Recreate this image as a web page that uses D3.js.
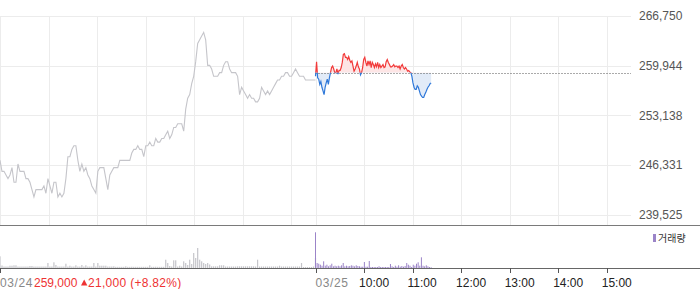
<!DOCTYPE html>
<html>
<head>
<meta charset="utf-8">
<script src="https://cdnjs.cloudflare.com/ajax/libs/d3/7.8.5/d3.min.js"></script>
<style>
  body { margin: 0; background: #fff; }
  svg { display: block; font-family: "Liberation Sans", Arial, sans-serif; }
</style>
</head>
<body>
<div id="chart"></div>
<script>
// 03/24 full session 09:00-15:30, price in thousand won
var prevPrices = [
  247, 245.5, 245.5, 245, 244.5, 245, 246, 244, 244, 246.5,
  245.5, 245.5, 245.5, 244.5, 244.5, 244, 243, 242, 243, 243,
  243, 243, 243.5, 242.5, 244.5, 243.5, 242.5, 244, 244, 242,
  242.5, 242, 242.5, 244.5, 247.5, 247.5, 248.5, 249, 249, 247,
  245.5, 246.5, 245.5, 246, 245, 244.5, 243.5, 243, 242.5, 245.5,
  246, 246, 246, 244.5, 243, 245, 245.5, 246, 246, 246,
  247, 247, 247, 247, 247, 247, 248, 248.5, 248.5, 249,
  248.5, 248.5, 247.5, 249, 249, 249.5, 249, 249, 250, 249.5,
  249.5, 250, 250, 250.5, 251, 250, 250.5, 251.5, 251.5, 252,
  252, 252, 251, 254, 255.5, 256, 257.5, 258.5, 260.5, 263,
  263.5, 264, 264.5, 263.5, 260, 260, 259.5, 258.5, 258.5, 258.5,
  259, 259, 260, 260.5, 260.5, 259.5, 259, 259, 259, 258.5,
  256, 257, 256.5, 256, 255.5, 256, 255.5, 255.5, 255, 255,
  255.5, 257, 256.5, 256, 256.5, 256, 256.5, 257, 257.5, 258,
  258, 258.5, 258.5, 259, 259, 258.5, 258.5, 259, 259.5, 259,
  258.5, 258.5, 258.5, 258, 258, 258, 258, 258, 258
];

// 03/25 09:00-11:23
var todayPrices = [
  258.5, 260.5, 258.3, 258.1, 257.4, 257.8, 257.0, 256.5, 256.0, 257.0,
  257.6, 258.1, 257.4, 258.3, 259.0, 259.7, 259.9, 259.5, 259.0, 259.0,
  259.5, 258.8, 259.3, 259.3, 259.7, 260.4, 261.5, 261.6, 261.1, 261.1,
  260.8, 261.2, 260.7, 260.4, 260.6, 259.9, 259.2, 259.5, 259.9, 260.4,
  259.8, 259.5, 258.7, 259.0, 259.7, 260.8, 261.1, 260.4, 259.9, 260.6,
  260.1, 260.6, 259.7, 260.4, 260.1, 259.7, 260.2, 259.8, 260.4, 259.7,
  260.1, 259.7, 259.9, 260.1, 259.7, 259.8, 260.5, 260.8, 260.4, 260.1,
  259.8, 259.8, 259.9, 260.1, 259.8, 259.9, 259.9, 259.7, 259.9, 259.5,
  259.9, 260.1, 259.7, 259.5, 259.7, 259.5, 259.2, 259.3, 259.1, 259.0,
  258.5, 257.6, 257.0, 256.7, 256.7, 257.2, 257.0, 256.5, 256.0, 255.8,
  255.6, 255.6, 256.0, 256.3, 256.7, 257.0, 257.2, 257.5, 257.6
];

// volume, thousand shares
var prevVolume = [
  11.7, 2.5, 1.5, 1.5, 1.5, 2.3, 2.3, 2.7, 2.7, 1.5,
  1.5, 1.5, 1.5, 1.5, 1.5, 2, 2, 1.5, 1.5, 1.5,
  1.5, 1.5, 1.5, 1.5, 5, 1.5, 1.5, 5.7, 3, 1.5,
  1.5, 1.5, 1.5, 4.3, 1.5, 2.3, 1.5, 1.5, 2.7, 1.5,
  1.5, 3, 1.5, 2.7, 1.5, 1.5, 1.5, 5, 1.5, 5,
  2.3, 2.3, 2.3, 2.3, 1.5, 1.5, 1.5, 1.7, 1.2, 1.2,
  1.2, 1.2, 1.2, 1.7, 1.2, 1.2, 1.3, 1.2, 1.2, 1.2,
  1.2, 1.2, 1.2, 1.2, 1.2, 2.7, 1.2, 1.2, 1.3, 1.2,
  1.2, 1.2, 1.2, 8.3, 5, 2, 1.5, 7.7, 7.7, 1.5,
  2.3, 1.5, 6.7, 5, 3, 8.3, 4, 15, 10, 20,
  8.3, 6.7, 5, 4, 5, 3.5, 1.7, 1.7, 1.7, 1.7,
  2.7, 2.7, 2.7, 1.5, 1.5, 1.5, 1.5, 1.5, 1.5, 1.7,
  1.7, 1.7, 1.7, 1.7, 1.7, 1.7, 1.7, 1.7, 1.5, 8.3,
  1.5, 1.5, 1.5, 1.5, 1.5, 1.5, 1.5, 1.5, 1.5, 1.5,
  2.3, 1.5, 1.5, 1.5, 1.5, 1.5, 1.5, 1.5, 1.5, 1.5,
  1.5, 5, 1, 1, 1, 1, 1, 1.5, 10
];
var todayVolume = [
  35.7, 5, 4.3, 3.3, 2.3, 6.7, 2.3, 3.3, 1.7, 2.7,
  4.3, 1.7, 2.3, 1.7, 2.3, 1.7, 2.7, 5, 1.7, 2.3,
  1.7, 2, 2.7, 2.3, 1.7, 2.7, 2, 1.7, 1.3, 1.3,
  6, 1.3, 1.3, 7, 1, 1, 1, 1, 1, 1.7,
  1, 1, 1, 1, 1, 1, 4, 1.7, 1, 2.3,
  1.3, 2.7, 1.3, 2, 1.3, 2, 5, 3.3, 2.3, 1,
  3.3, 2.3, 4.3, 5.7, 2.3, 10.7, 2.3, 1.7, 2.7, 1.7,
  1, 0.7
];

var basePrice = 259000;
var priceTicks = [239525, 246331, 253138, 259944, 266750];
var hourLabels = ["10:00", "11:00", "12:00", "13:00", "14:00", "15:00"];
var dayLabels = ["03/24", "03/25"];
var closeText = "259,000";
var changeText = "21,000 (+8.82%)";
var legendText = "거래량";

// magic numbers
var width = 700, height = 289;
var plot = {left: 0, right: 631, top: 16, bottom: 225};
var volBox = {top: 226, bottom: 268};
var session = 390;   // minutes 09:00 - 15:30
var todayLast = 143; // 09:00 -> 11:23
var colors = {
  grid: "#ececec", prev: "#c5c5ca", up: "#f23a3a", down: "#2f78d9",
  upFill: "#fde5e5", downFill: "#e2ebf8", vol: "#9b84c8", text: "#555", red: "#ee3333"
};

var svg = d3.select("#chart").append("svg")
  .attr("width", width)
  .attr("height", height);

var x = d3.scaleLinear()
  .domain([0, session * 2])
  .range([plot.left, plot.right]);

var y = d3.scaleLinear()
  .domain([priceTicks[0], priceTicks[priceTicks.length - 1]])
  .range([215, plot.top]);

var yv = d3.scaleLinear()
  .domain([0, 42])
  .range([volBox.bottom, volBox.top]);

var prevData = prevPrices.map(function(p, i){
  return {t: i * session / (prevPrices.length - 1), p: p * 1000};
});
var todayData = todayPrices.map(function(p, i){
  return {t: session + i * todayLast / (todayPrices.length - 1), p: p * 1000};
});
var prevVol = prevVolume.map(function(v, i){
  return {t: i * session / (prevVolume.length - 1), v: v};
});
var todayVol = todayVolume.map(function(v, i){
  return {t: session + i * todayLast / (todayVolume.length - 1), v: v};
});

function crisp(v){ return Math.round(v) + 0.5; }

// hour grid, both days
var hours = [];
[0, 1].forEach(function(day){
  for (var h = 0; h <= 6; h++) hours.push(day * session + h * 60);
});

var grid = svg.append("g").attr("class", "grid");

grid.selectAll(".vgrid")
    .data(hours)
  .enter().append("line")
    .attr("x1", function(d){ return crisp(x(d)); })
    .attr("x2", function(d){ return crisp(x(d)); })
    .attr("y1", plot.top)
    .attr("y2", plot.bottom)
    .style("stroke", colors.grid);

grid.selectAll(".hgrid")
    .data(priceTicks)
  .enter().append("line")
    .attr("x1", plot.left)
    .attr("x2", plot.right)
    .attr("y1", function(d){ return crisp(y(d)); })
    .attr("y2", function(d){ return crisp(y(d)); })
    .style("stroke", colors.grid);

// right axis labels
svg.append("g").selectAll("text")
    .data(priceTicks)
  .enter().append("text")
    .attr("x", 639)
    .attr("y", function(d){ return y(d); })
    .attr("dy", "0.35em")
    .style("font-size", "12px")
    .style("fill", colors.text)
    .text(d3.format(","));

// previous day line
svg.append("path")
  .datum(prevData)
  .attr("d", d3.line()
    .x(function(d){ return x(d.t); })
    .y(function(d){ return y(d.p); }))
  .style("fill", "none")
  .style("stroke", colors.prev)
  .style("stroke-width", 1.1);

// clips above / below base price
var yb = y(basePrice);
var defs = svg.append("defs");
defs.append("clipPath").attr("id", "clip-up")
  .append("rect")
    .attr("x", plot.left).attr("y", 0)
    .attr("width", plot.right).attr("height", yb);
defs.append("clipPath").attr("id", "clip-down")
  .append("rect")
    .attr("x", plot.left).attr("y", yb)
    .attr("width", plot.right).attr("height", plot.bottom - yb);

var area = d3.area()
  .x(function(d){ return x(d.t); })
  .y0(yb)
  .y1(function(d){ return y(d.p); });

var line = d3.line()
  .x(function(d){ return x(d.t); })
  .y(function(d){ return y(d.p); });

[["up", colors.upFill, colors.up], ["down", colors.downFill, colors.down]].forEach(function(s){
  svg.append("path")
    .datum(todayData)
    .attr("clip-path", "url(#clip-" + s[0] + ")")
    .attr("d", area)
    .style("fill", s[1]);
});

// base price dotted line
svg.append("line")
  .attr("x1", x(session))
  .attr("x2", plot.right)
  .attr("y1", crisp(yb))
  .attr("y2", crisp(yb))
  .style("stroke", "#555")
  .style("stroke-dasharray", "1,2");

[["up", colors.up], ["down", colors.down]].forEach(function(s){
  svg.append("path")
    .datum(todayData)
    .attr("clip-path", "url(#clip-" + s[0] + ")")
    .attr("d", line)
    .style("fill", "none")
    .style("stroke", s[1])
    .style("stroke-width", 1.2);
});

// panel borders
svg.append("line")
  .attr("x1", 0).attr("x2", width)
  .attr("y1", plot.bottom + 0.5).attr("y2", plot.bottom + 0.5)
  .style("stroke", "#7a7a7a");

// volume bars
svg.append("g").selectAll("rect")
    .data(prevVol)
  .enter().append("rect")
    .attr("x", function(d){ return x(d.t) - 0.6; })
    .attr("width", 1.2)
    .attr("y", function(d){ return yv(d.v); })
    .attr("height", function(d){ return volBox.bottom - yv(d.v); })
    .style("fill", colors.prev);

svg.append("g").selectAll("rect")
    .data(todayVol)
  .enter().append("rect")
    .attr("x", function(d){ return x(d.t) - 0.5; })
    .attr("width", 1)
    .attr("y", function(d){ return yv(d.v); })
    .attr("height", function(d){ return volBox.bottom - yv(d.v); })
    .style("fill", colors.vol);

// time axis
svg.append("line")
  .attr("x1", 0).attr("x2", width)
  .attr("y1", volBox.bottom + 0.5).attr("y2", volBox.bottom + 0.5)
  .style("stroke", "#666");

var tickTimes = [0].concat(hours.filter(function(d){ return d >= session; }));
svg.append("g").selectAll("line")
    .data(tickTimes)
  .enter().append("line")
    .attr("x1", function(d){ return crisp(x(d)); })
    .attr("x2", function(d){ return crisp(x(d)); })
    .attr("y1", volBox.bottom)
    .attr("y2", volBox.bottom + 5)
    .style("stroke", "#555");

svg.append("g").selectAll("text")
    .data(dayLabels)
  .enter().append("text")
    .attr("x", function(d, i){ return x(i * session); })
    .attr("y", 287)
    .style("font-size", "12px")
    .style("letter-spacing", "0.6px")
    .style("fill", "#888")
    .text(function(d){ return d; });

svg.append("g").selectAll("text")
    .data(hourLabels)
  .enter().append("text")
    .attr("x", function(d, i){ return x(session + (i + 1) * 60) - 5; })
    .attr("y", 287)
    .style("font-size", "12px")
    .style("fill", "#222")
    .text(function(d){ return d; });

// previous close info
svg.append("text")
  .attr("x", 34)
  .attr("y", 287)
  .style("font-size", "12px")
  .style("fill", colors.red)
  .text(closeText);

svg.append("path")
  .attr("d", "M81,285.5L84.2,279.5L87.4,285.5Z")
  .style("fill", colors.red);

svg.append("text")
  .attr("x", 88)
  .attr("y", 287)
  .style("font-size", "12px")
  .style("letter-spacing", "0.3px")
  .style("fill", colors.red)
  .text(changeText);

// legend
svg.append("rect")
  .attr("x", 653).attr("y", 234)
  .attr("width", 3).attr("height", 8)
  .style("fill", colors.vol);

svg.append("text")
  .attr("x", 658)
  .attr("y", 238)
  .attr("dy", "0.35em")
  .style("font-family", "'Noto Sans CJK KR', sans-serif")
  .style("font-size", "10px")
  .style("fill", "#333")
  .text(legendText);
</script>
</body>
</html>
